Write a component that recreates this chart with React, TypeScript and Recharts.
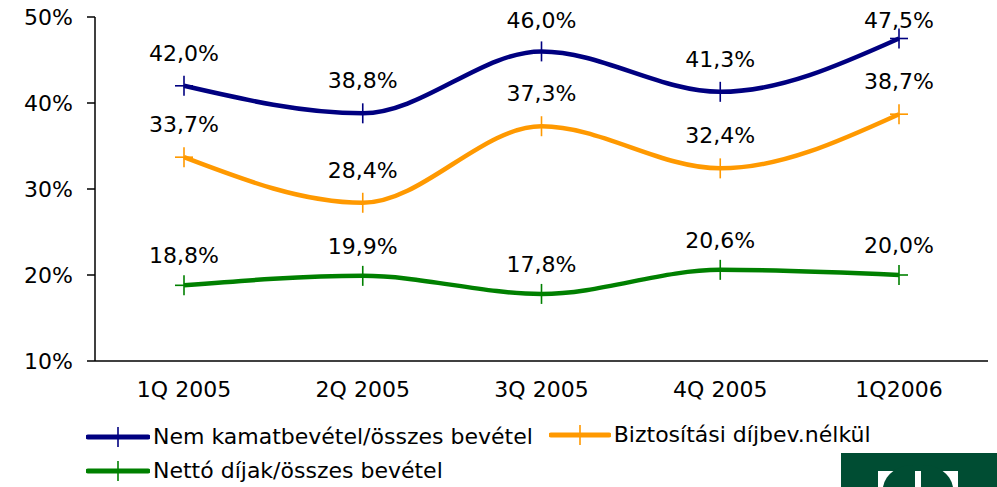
import { LineChart, Line, XAxis, YAxis, LabelList } from "recharts";

const quarters = ["1Q 2005", "2Q 2005", "3Q 2005", "4Q 2005", "1Q2006"];
const nemKamat = [42.0, 38.8, 46.0, 41.3, 47.5];
const biztositasi = [33.7, 28.4, 37.3, 32.4, 38.7];
const nettoDijak = [18.8, 19.9, 17.8, 20.6, 20.0];
const yTicks = [10, 20, 30, 40, 50];
const edgeTicks = [0, 1, 2, 3, 4, 5];

const data = quarters.map((q, i) => ({
  q,
  nem: nemKamat[i],
  bizt: biztositasi[i],
  netto: nettoDijak[i],
}));

const FONT = "'DejaVu Sans', Verdana, sans-serif";
const NAVY = "#000080";
const ORANGE = "#FF9900";
const GREEN = "#008000";

const fmt = (v: number) => v.toFixed(1).replace(".", ",") + "%";

const PlusDot = (color: string) => (props: any) => {
  const { cx, cy, index } = props;
  if (cx == null || cy == null) return <g key={index} />;
  return (
    <g key={index}>
      <line x1={cx - 9} x2={cx + 9} y1={cy} y2={cy} stroke={color} strokeWidth={1.6} />
      <line x1={cx} x2={cx} y1={cy - 10} y2={cy + 10} stroke={color} strokeWidth={1.6} />
    </g>
  );
};

// labels sit above the point, but are kept inside the chart (like Excel does)
const ValueLabel = (gap: number) => (props: any) => {
  const { x, y, value, index } = props;
  const ty = Math.max(y - gap, 28);
  return (
    <text key={index} x={x} y={ty} textAnchor="middle" fontSize={22} fontFamily={FONT} fill="#000">
      {fmt(value)}
    </text>
  );
};

const LegendItem = ({ color, label, lineW }: { color: string; label: string; lineW: number }) => (
  <span style={{ display: "inline-flex", alignItems: "center" }}>
    <svg width={lineW} height={22} style={{ marginRight: 3 }}>
      <line x1={2} x2={lineW - 2} y1={11} y2={11} stroke={color} strokeWidth={5} strokeLinecap="round" />
      <line x1={lineW / 2} x2={lineW / 2} y1={1} y2={21} stroke={color} strokeWidth={1.6} />
    </svg>
    <span>{label}</span>
  </span>
);

export default function App() {
  return (
    <div style={{ position: "absolute", left: 0, top: 0, width: 997, height: 487, background: "#fff", overflow: "hidden", fontFamily: FONT }}>
      <LineChart width={997} height={487} data={data} margin={{ top: 17, right: 9, left: 0, bottom: 86 }}>
        <XAxis
          xAxisId="edges"
          type="number"
          domain={[0, 5]}
          ticks={edgeTicks}
          tick={false}
          axisLine={false}
          tickLine={{ stroke: "#000", strokeWidth: 1.5 }}
          tickSize={8}
          height={0}
          allowDataOverflow
        />
        <XAxis
          dataKey="q"
          padding={{ left: 89, right: 89 }}
          axisLine={{ stroke: "#000", strokeWidth: 1.5 }}
          tickLine={false}
          tickSize={0}
          tickMargin={20}
          height={40}
          tick={{ fill: "#000", fontSize: 22, fontFamily: FONT }}
        />
        <YAxis
          domain={[10, 50]}
          ticks={yTicks}
          tickFormatter={(v) => v + "%"}
          width={95}
          axisLine={{ stroke: "#000", strokeWidth: 1.5 }}
          tickLine={{ stroke: "#000", strokeWidth: 1.5 }}
          tickSize={8}
          tickMargin={14}
          tick={{ fill: "#000", fontSize: 22, fontFamily: FONT }}
        />
        <Line type="monotone" dataKey="nem" stroke={NAVY} strokeWidth={4.5} dot={PlusDot(NAVY)} isAnimationActive={false}>
          <LabelList dataKey="nem" content={ValueLabel(25)} />
        </Line>
        <Line type="monotone" dataKey="bizt" stroke={ORANGE} strokeWidth={4.5} dot={PlusDot(ORANGE)} isAnimationActive={false}>
          <LabelList dataKey="bizt" content={ValueLabel(25)} />
        </Line>
        <Line type="monotone" dataKey="netto" stroke={GREEN} strokeWidth={4.5} dot={PlusDot(GREEN)} isAnimationActive={false}>
          <LabelList dataKey="netto" content={ValueLabel(22)} />
        </Line>
      </LineChart>
      <div style={{ position: "absolute", left: 86, top: 420, fontSize: 22, color: "#000", lineHeight: "34px" }}>
        <div style={{ display: "flex", height: 34, alignItems: "center" }}>
          <LegendItem color={NAVY} label="Nem kamatbevétel/összes bevétel" lineW={64} />
          <span style={{ marginLeft: 16 }}>
            <LegendItem color={ORANGE} label="Biztosítási díjbev.nélkül" lineW={62} />
          </span>
        </div>
        <div style={{ display: "flex", height: 34, alignItems: "center" }}>
          <LegendItem color={GREEN} label="Nettó díjak/összes bevétel" lineW={64} />
        </div>
      </div>
      <svg style={{ position: "absolute", left: 841, top: 453 }} width={156} height={34}>
        <rect x={0} y={0} width={156} height={34} fill="#004D33" />
        <rect x={37} y={18} width={80} height={16} fill="#fff" />
        <path d="M42 34 A30 26 0 0 1 74 12 L74 34 Z" fill="#004D33" />
        <path d="M80 34 L80 12 A30 26 0 0 1 112 34 Z" fill="#004D33" />
      </svg>
    </div>
  );
}
